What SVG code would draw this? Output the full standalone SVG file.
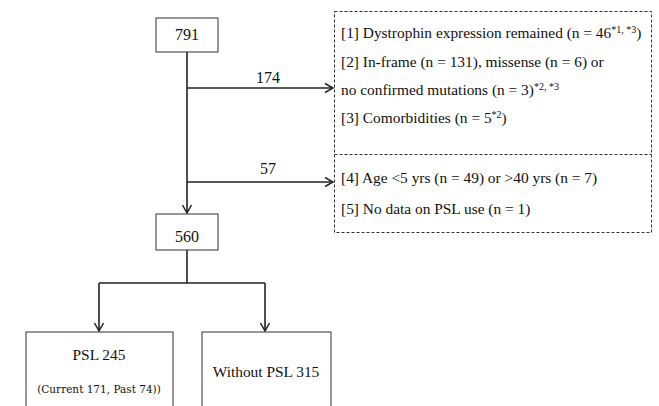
<svg xmlns="http://www.w3.org/2000/svg" width="659" height="406" viewBox="0 0 659 406" font-family="Liberation Serif, Times New Roman, serif">
<style>
.box{fill:#fff;stroke:#333;stroke-width:1}
.dash{fill:none;stroke:#333;stroke-width:1;stroke-dasharray:3,2}
.con{fill:none;stroke:#222;stroke-width:1.6}
text{fill:#111}
.n{font-size:16px;text-anchor:middle}
.r{font-size:15.4px}
</style>
<defs>
<marker id="ah" markerWidth="12" markerHeight="12" refX="10" refY="6" orient="auto" markerUnits="userSpaceOnUse">
<path d="M2,1.5 L10,6 L2,10.5" fill="none" stroke="#222" stroke-width="1.5"/>
</marker>
</defs>
<rect width="659" height="406" fill="#fff"/>
<g id="connectors">
<path class="con" d="M187,52 V213" marker-end="url(#ah)"/>
<path class="con" d="M187,88 H333" marker-end="url(#ah)"/>
<path class="con" d="M187,182 H333" marker-end="url(#ah)"/>
<path class="con" d="M187,250 V283"/>
<path class="con" d="M99,283 H265"/>
<path class="con" d="M99,283 V331" marker-end="url(#ah)"/>
<path class="con" d="M265,283 V331" marker-end="url(#ah)"/>
<text class="n" x="268" y="83">174</text>
<text class="n" x="268" y="174">57</text>
</g>
<g id="n791">
<rect class="box" x="156" y="18" width="62" height="34"/>
<text class="n" x="187" y="40">791</text>
</g>
<g id="exclusions">
<rect class="dash" x="334.5" y="11.5" width="317" height="221"/>
<line class="dash" x1="334.5" y1="154.5" x2="651.5" y2="154.5"/>
<text class="r" x="341" y="38">[1] Dystrophin expression remained (n = 46<tspan font-size="10" dy="-5">*1, *3</tspan><tspan dy="5">)</tspan></text>
<text class="r" x="341" y="67">[2] In-frame (n = 131), missense (n = 6) or</text>
<text class="r" x="341" y="95">no confirmed mutations (n = 3)<tspan font-size="10" dy="-5">*2, *3</tspan></text>
<text class="r" x="341" y="123">[3] Comorbidities (n = 5<tspan font-size="10" dy="-5">*2</tspan><tspan dy="5">)</tspan></text>
<text class="r" x="341" y="183">[4] Age &lt;5 yrs (n = 49) or &gt;40 yrs (n = 7)</text>
<text class="r" x="341" y="214">[5] No data on PSL use (n = 1)</text>
</g>
<g id="n560">
<rect class="box" x="156" y="214" width="62" height="36"/>
<text class="n" x="187" y="242">560</text>
</g>
<g id="psl">
<rect class="box" x="26" y="332" width="147" height="90"/>
<text class="r" x="99" y="360" text-anchor="middle">PSL 245</text>
<text x="99" y="393" text-anchor="middle" font-family="DejaVu Serif, serif" font-size="10.5">(Current 171, Past 74))</text>
</g>
<g id="nopsl">
<rect class="box" x="202" y="332" width="129" height="90"/>
<text class="r" x="266" y="377" text-anchor="middle">Without PSL 315</text>
</g>
</svg>
